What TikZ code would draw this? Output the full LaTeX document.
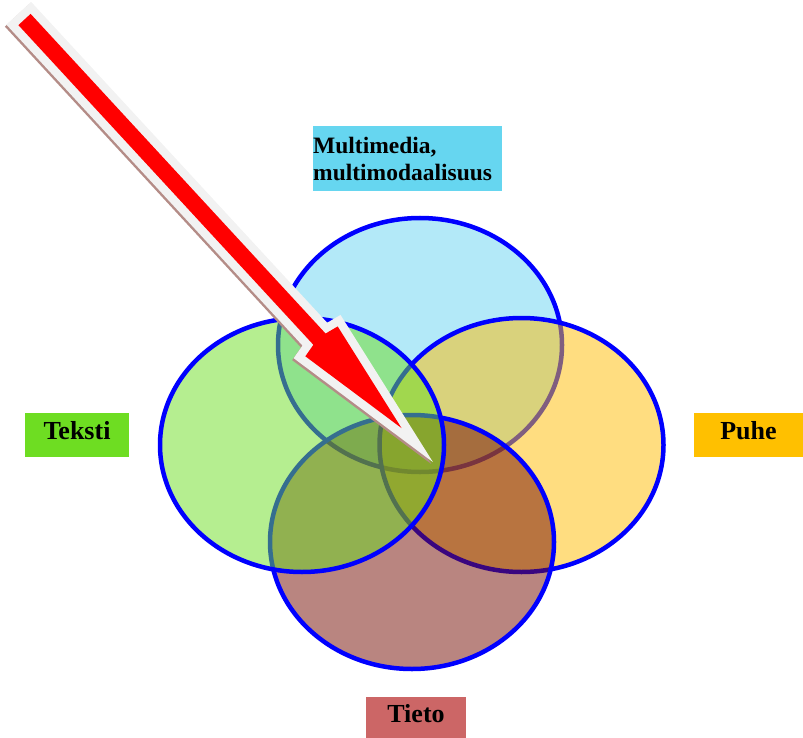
\documentclass[tikz,border=0pt]{standalone}
\usepackage{fontspec}
\setmainfont{Liberation Serif}
\usetikzlibrary{shapes.geometric}
\definecolor{cTop}{RGB}{104,211,241}
\definecolor{cLeft}{RGB}{107,221,33}
\definecolor{cRight}{RGB}{255,188,1}
\definecolor{cBot}{RGB}{115,11,1}
\definecolor{lTop}{RGB}{102,214,240}
\definecolor{lLeft}{RGB}{110,221,34}
\definecolor{lRight}{RGB}{255,192,0}
\definecolor{lBot}{RGB}{204,102,102}
\definecolor{arrowedge}{RGB}{242,242,242}
\definecolor{arrowshadow}{RGB}{180,140,135}
\begin{document}
\begin{tikzpicture}[x=1pt,y=-1pt,
  circ/.style={ellipse, draw=blue, line width=4.5pt, fill opacity=0.5, inner sep=0pt,
               minimum width=284pt, minimum height=254pt},
  lab/.style={font=\fontsize{26}{30}\selectfont\bfseries, text=black,
              text height=15pt, text depth=6pt, inner sep=0pt},
  arrowbody/.style={line width=17pt, line join=miter}]
\useasboundingbox (0,0) rectangle (803,738);
% overlapping circles
\node[circ, fill=cTop]   (top)    at (420,345)   {};
\node[circ, fill=cRight] (right)  at (521.5,445) {};
\node[circ, fill=cBot]   (bottom) at (412,542)   {};
\node[circ, fill=cLeft]  (left)   at (302,445)   {};
% labels
\node[fill=lTop, font=\fontsize{23.5}{27}\selectfont\bfseries, text=black,
      text width=189pt, align=left, inner sep=0pt, minimum height=65pt,
      anchor=north west] (mm) at (313,126) {Multimedia,\\multimodaalisuus};
\node[lab, fill=lLeft,  minimum width=104pt, minimum height=44pt] (teksti) at (77,435)    {Teksti};
\node[lab, fill=lRight, minimum width=109pt, minimum height=44pt] (puhe)   at (748.5,434.5) {Puhe};
\node[lab, fill=lBot,   minimum width=100pt, minimum height=41pt] (tieto)  at (416,717.5) {Tieto};
% big arrow: shadow
\begin{scope}[shift={(23,21.5)}, rotate=-47.3]
  \filldraw[arrowbody, draw=arrowshadow, fill=arrowshadow]
    (0,8.3) -- (435,8.3) -- (438,22) -- (556,0) -- (438,-22) -- (435,-8.3) -- (0,-8.3) -- cycle;
\end{scope}
% big arrow: outline and body
\begin{scope}[shift={(24.5,19.5)}, rotate=-47.3]
  \draw[arrowbody, draw=arrowedge]
    (0,8.3) -- (435,8.3) -- (438,22) -- (556,0) -- (438,-22) -- (435,-8.3) -- (0,-8.3) -- cycle;
  \fill[red]
    (0,8.3) -- (435,8.3) -- (438,22) -- (556,0) -- (438,-22) -- (435,-8.3) -- (0,-8.3) -- cycle;
\end{scope}
\end{tikzpicture}
\end{document}
